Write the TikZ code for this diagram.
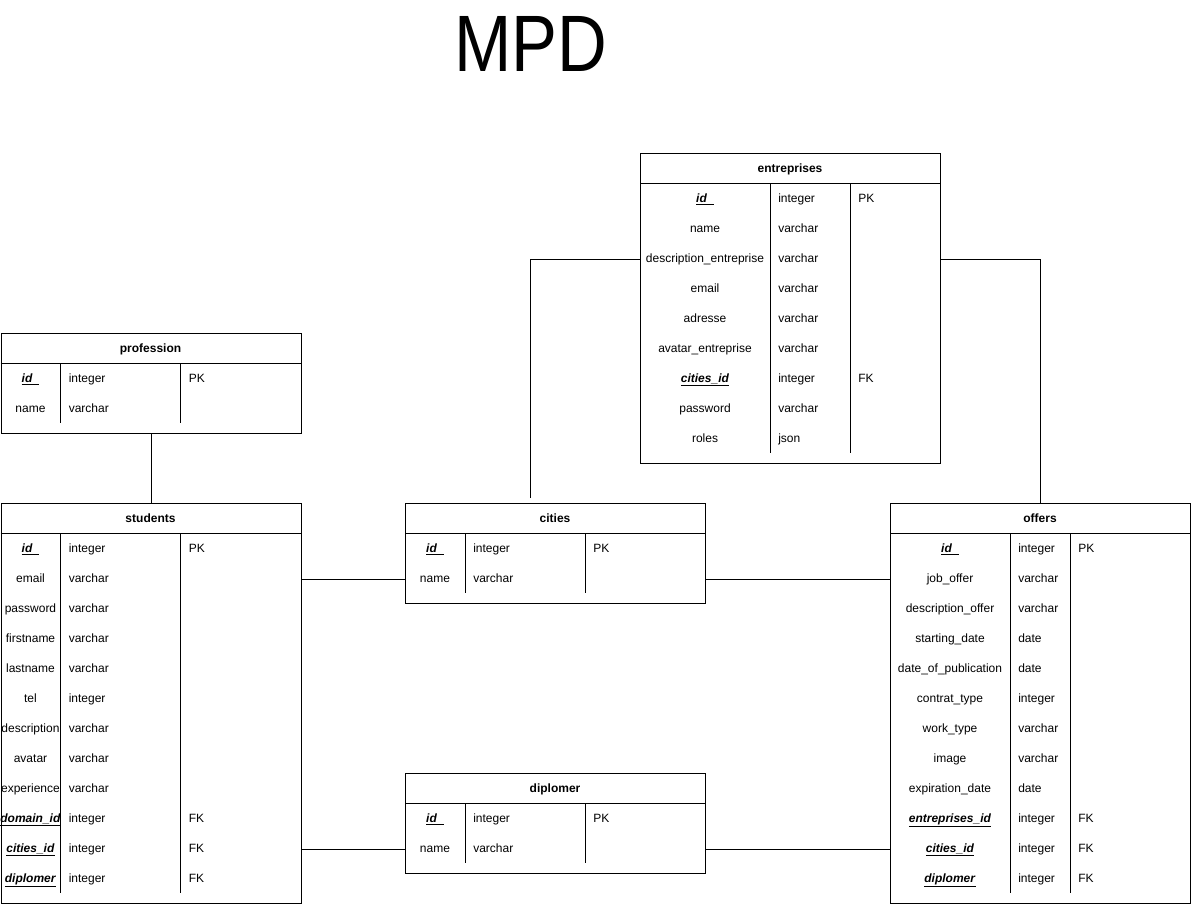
\documentclass[tikz,border=0pt]{standalone}
\usepackage{fontspec}
\setmainfont{Liberation Sans}
\begin{document}
\newcommand\keyf[1]{\underline{\textbf{\textit{#1}}}}
\newcommand\idkey{\underline{\textbf{\textit{id}}\hspace{5pt}}}
% #1 name, #2 left, #3 top, #4 width, #5 first divider, #6 second divider,
% #7 number of rows, #8 title, #9 rows as field/type/key
\newcommand\ertable[9]{%
  \pgfmathsetmacro\tblh{(40+30*#7)*0.75}%
  \node[tbox, minimum width=#4*0.75pt, minimum height=\tblh pt, anchor=north west] (#1) at (#2,#3) {};
  \node[thead] (#1 title) at (#2+#4/2,#3+16) {#8};
  \draw[rule] (#2,#3+30) -- (#2+#4,#3+30);
  \draw[rule] (#2+#5,#3+30) -- ++(0,30*#7);
  \draw[rule] (#2+#6,#3+30) -- ++(0,30*#7);
  \foreach \fa/\fb/\fc [count=\i] in {#9} {
    \node[cell] (#1 n\i) at (#2+#5/2,#3+16+30*\i) {\fa};
    \node[cell, anchor=west] (#1 t\i) at (#2+#5+8,#3+16+30*\i) {\fb};
    \node[cell, anchor=west] (#1 k\i) at (#2+#6+8,#3+16+30*\i) {\fc};
  }%
}
\begin{tikzpicture}[x=0.75pt,y=-0.75pt,
  tbox/.style={draw, line width=0.75pt, inner sep=0pt, fill=white},
  thead/.style={font=\fontsize{9}{11}\selectfont\bfseries, text height=7pt, text depth=2pt, inner sep=0pt},
  cell/.style={font=\fontsize{9}{11}\selectfont, text height=7pt, text depth=2pt, inner sep=0pt},
  rule/.style={line width=0.75pt},
  link/.style={line width=0.75pt}]
\useasboundingbox (0,0) rectangle (1191,904);

\node[anchor=base, font=\fontsize{60}{60}\selectfont, xscale=0.86, inner sep=0pt] (title) at (531,71) {MPD};

\ertable{profession}{0.5}{333}{300}{60}{180}{2}{profession}{
  \idkey/integer/PK, name/varchar/}

\ertable{students}{0.5}{503}{300}{60}{180}{12}{students}{
  \idkey/integer/PK, email/varchar/, password/varchar/, firstname/varchar/,
  lastname/varchar/, tel/integer/, description/varchar/, avatar/varchar/,
  experience/varchar/, \keyf{domain\_id}/integer/FK, \keyf{cities\_id}/integer/FK,
  \keyf{diplomer}/integer/FK}

\ertable{cities}{405}{503}{300}{60}{180}{2}{cities}{
  \idkey/integer/PK, name/varchar/}

\ertable{diplomer}{405}{773}{300}{60}{180}{2}{diplomer}{
  \idkey/integer/PK, name/varchar/}

\ertable{entreprises}{640}{153}{300}{130}{210}{9}{entreprises}{
  \idkey/integer/PK, name/varchar/, description\_entreprise/varchar/,
  email/varchar/, adresse/varchar/, avatar\_entreprise/varchar/,
  \keyf{cities\_id}/integer/FK, password/varchar/, roles/json/}

\ertable{offers}{890}{503}{300}{120}{180}{12}{offers}{
  \idkey/integer/PK, job\_offer/varchar/, description\_offer/varchar/,
  starting\_date/date/, date\_of\_publication/date/, contrat\_type/integer/,
  work\_type/varchar/, image/varchar/, expiration\_date/date/,
  \keyf{entreprises\_id}/integer/FK, \keyf{cities\_id}/integer/FK,
  \keyf{diplomer}/integer/FK}

% relations
\coordinate (citiesup) at (530.5,498);
\draw[link] (profession.south) -- (students.north);
\draw[link] (students.east |- cities n2) -- (cities.west |- cities n2);
\draw[link] (students.east |- diplomer n2) -- (diplomer.west |- diplomer n2);
\draw[link] (cities.east |- cities n2) -- (offers.west |- cities n2);
\draw[link] (diplomer.east |- diplomer n2) -- (offers.west |- diplomer n2);
\draw[link] (citiesup) |- (entreprises.west |- entreprises n3);
\draw[link] (entreprises.east |- entreprises n3) -| (offers.north);
\end{tikzpicture}
\end{document}
